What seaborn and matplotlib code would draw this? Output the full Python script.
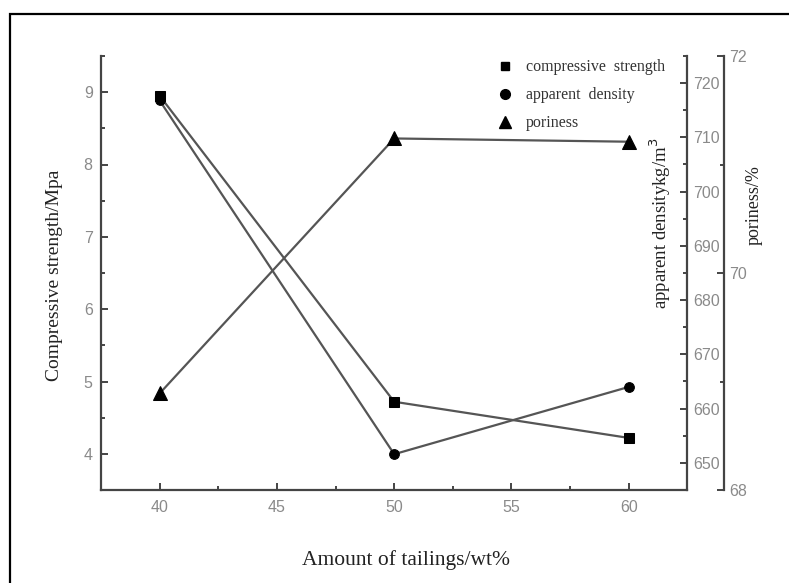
import matplotlib
matplotlib.use("Agg")
import matplotlib.pyplot as plt
from matplotlib.lines import Line2D
from matplotlib.patches import Rectangle
from matplotlib.ticker import MultipleLocator
import seaborn as sns
import pandas as pd

# ---- data ----
tailings = [40, 50, 60]
compressive_strength = [8.95, 4.72, 4.22]
apparent_density = [716.8, 651.6, 664.0]
poriness = [68.89, 71.24, 71.21]
series_names = ["compressive  strength", "apparent  density", "poriness"]
x_label = "Amount of tailings/wt%"
y1_label = "Compressive strength/Mpa"
y2_label = "apparent densitykg/m$^3$"
y3_label = "poriness/%"

sns.set_style("ticks")
plt.rcParams['font.family'] = ['Liberation Sans', 'DejaVu Sans']

W, H = 789, 583
fig = plt.figure(figsize=(W / 100, H / 100), dpi=100)
left, right, bottom, top = 101, 687.4, 490, 56
ax = fig.add_axes([left / W, 1 - bottom / H, (right - left) / W, (bottom - top) / H])
ax2 = ax.twinx()
ax3 = ax.twinx()
ax3.spines['right'].set_position(('axes', (723.6 - left) / (right - left)))

df = pd.DataFrame({"x": tailings, "cs": compressive_strength,
                   "ad": apparent_density, "po": poriness})

line_c = "#555555"
sns.lineplot(data=df, x="x", y="cs", ax=ax, color=line_c, lw=1.6,
             marker="s", markersize=7, markerfacecolor="black",
             markeredgecolor="black")
sns.lineplot(data=df, x="x", y="ad", ax=ax2, color=line_c, lw=1.6,
             marker="o", markersize=7, markerfacecolor="black",
             markeredgecolor="black")
sns.lineplot(data=df, x="x", y="po", ax=ax3, color=line_c, lw=1.6,
             marker="^", markersize=10, markerfacecolor="black",
             markeredgecolor="black")

ax.set_xlim(37.5, 62.5)
ax.set_ylim(3.5, 9.5)
ax2.set_ylim(645, 725)
ax3.set_ylim(68, 72)

ax.xaxis.set_major_locator(MultipleLocator(5))
ax.xaxis.set_minor_locator(MultipleLocator(2.5))
ax.yaxis.set_major_locator(MultipleLocator(1))
ax.yaxis.set_minor_locator(MultipleLocator(0.5))
ax2.yaxis.set_major_locator(MultipleLocator(10))
ax2.yaxis.set_minor_locator(MultipleLocator(5))
ax3.yaxis.set_major_locator(MultipleLocator(2))
ax3.yaxis.set_minor_locator(MultipleLocator(1))

spine_c = "#444444"
tick_c = "#8a8a8a"
for a in (ax, ax2, ax3):
    for s in a.spines.values():
        s.set_color(spine_c)
        s.set_linewidth(1.6)
    a.tick_params(which="both", direction="in", color=spine_c, width=1.4,
                  labelcolor=tick_c, labelsize=11.5)
    a.tick_params(which="major", length=5)
    a.tick_params(which="minor", length=3)
    a.set_xlabel("")
    a.set_ylabel("")

ax.spines['top'].set_visible(False)
ax.spines['right'].set_visible(False)
ax2.spines['top'].set_visible(False)
ax2.spines['left'].set_visible(False)
ax2.spines['bottom'].set_visible(False)
ax3.spines['top'].set_visible(False)
ax3.spines['left'].set_visible(False)
ax3.spines['bottom'].set_visible(False)
ax.tick_params(axis="x", pad=7)
ax.tick_params(axis="y", pad=6)
ax2.tick_params(axis="y", pad=4)
ax3.tick_params(axis="y", pad=4)

serif = ['Liberation Serif', 'DejaVu Serif']
fig.text(406 / W, 1 - 560 / H, x_label, family=serif, fontsize=15.5,
         ha="center", va="center", color="#222222")
fig.text(55 / W, 1 - 275 / H, y1_label, family=serif, fontsize=14,
         ha="center", va="center", rotation=90, color="#222222")
fig.text(660 / W, 1 - 223 / H, y2_label, family=serif, fontsize=13.5,
         ha="center", va="center", rotation=90, color="#222222")
fig.text(754 / W, 1 - 205 / H, y3_label, family=serif, fontsize=13,
         ha="center", va="center", rotation=90, color="#222222")

handles = [Line2D([], [], ls="none", marker="s", markersize=6, color="black"),
           Line2D([], [], ls="none", marker="o", markersize=7, color="black"),
           Line2D([], [], ls="none", marker="^", markersize=9, color="black")]
leg = ax.legend(handles, series_names, loc="upper left",
                bbox_to_anchor=(483 / W, 1 - 45 / H), bbox_transform=fig.transFigure,
                frameon=False, prop={"family": serif, "size": 11.5},
                handlelength=1.0, handletextpad=0.8, labelspacing=0.75)
for t in leg.get_texts():
    t.set_color("#333333")

fig.patches.append(Rectangle((10 / W, -0.1), 1.2, 1 - 14 / H + 0.1,
                             transform=fig.transFigure, fill=False,
                             ec="black", lw=1.6))

fig.savefig("out.png", dpi=100)
